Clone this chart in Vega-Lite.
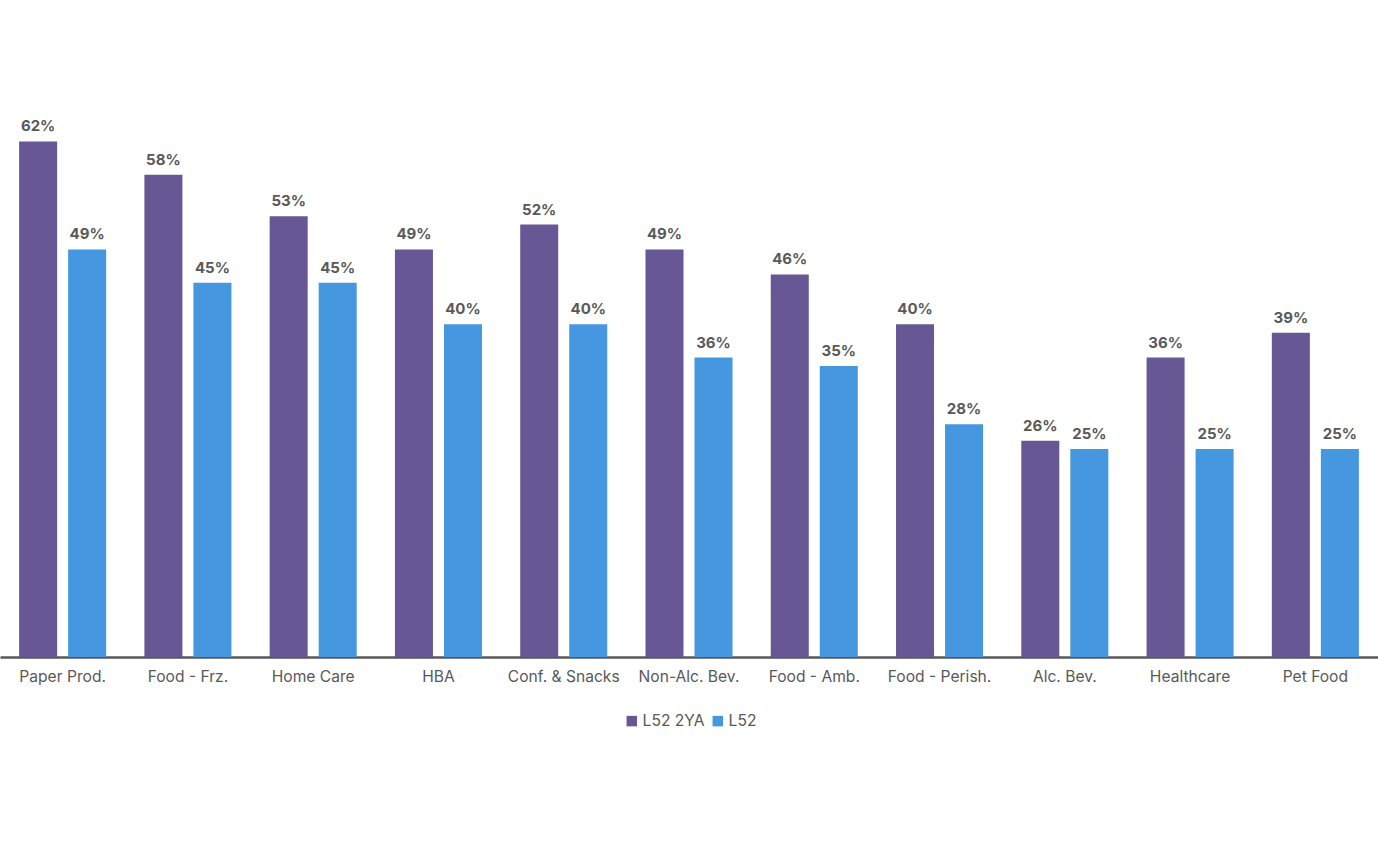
{
  "$schema": "https://vega.github.io/schema/vega-lite/v6.json",
  "width": 1378,
  "height": 657,
  "autosize": {"type": "none"},
  "padding": {"top": 0, "left": 0, "right": 0, "bottom": 201},
  "config": {
    "view": {"stroke": null},
    "font": "Inter",
    "axis": {"labelFont": "Inter", "titleFont": "Inter"},
    "legend": {"labelFont": "Inter"}
  },
  "data": {
    "values": [
      {"category": "Paper Prod.", "series": "L52 2YA", "value": 0.62},
      {"category": "Paper Prod.", "series": "L52", "value": 0.49},
      {"category": "Food - Frz.", "series": "L52 2YA", "value": 0.58},
      {"category": "Food - Frz.", "series": "L52", "value": 0.45},
      {"category": "Home Care", "series": "L52 2YA", "value": 0.53},
      {"category": "Home Care", "series": "L52", "value": 0.45},
      {"category": "HBA", "series": "L52 2YA", "value": 0.49},
      {"category": "HBA", "series": "L52", "value": 0.40},
      {"category": "Conf. & Snacks", "series": "L52 2YA", "value": 0.52},
      {"category": "Conf. & Snacks", "series": "L52", "value": 0.40},
      {"category": "Non-Alc. Bev.", "series": "L52 2YA", "value": 0.49},
      {"category": "Non-Alc. Bev.", "series": "L52", "value": 0.36},
      {"category": "Food - Amb.", "series": "L52 2YA", "value": 0.46},
      {"category": "Food - Amb.", "series": "L52", "value": 0.35},
      {"category": "Food - Perish.", "series": "L52 2YA", "value": 0.40},
      {"category": "Food - Perish.", "series": "L52", "value": 0.28},
      {"category": "Alc. Bev.", "series": "L52 2YA", "value": 0.26},
      {"category": "Alc. Bev.", "series": "L52", "value": 0.25},
      {"category": "Healthcare", "series": "L52 2YA", "value": 0.36},
      {"category": "Healthcare", "series": "L52", "value": 0.25},
      {"category": "Pet Food", "series": "L52 2YA", "value": 0.39},
      {"category": "Pet Food", "series": "L52", "value": 0.25}
    ]
  },
  "encoding": {
    "x": {
      "field": "category",
      "type": "nominal",
      "sort": null,
      "scale": {"paddingInner": 0, "paddingOuter": 0},
      "axis": {
        "title": null,
        "labelAngle": 0,
        "labelFontSize": 15.6,
        "labelColor": "#595959",
        "labelPadding": 12,
        "ticks": false,
        "domainColor": "#595959",
        "domainWidth": 2.5
      }
    },
    "xOffset": {
      "field": "series",
      "type": "nominal",
      "sort": ["L52 2YA", "L52"],
      "scale": {"paddingInner": 0.2245, "paddingOuter": 0.39}
    },
    "y": {
      "field": "value",
      "type": "quantitative",
      "scale": {"domain": [0, 0.79]},
      "axis": null
    }
  },
  "layer": [
    {
      "mark": {"type": "bar"},
      "encoding": {
        "color": {
          "field": "series",
          "type": "nominal",
          "sort": ["L52 2YA", "L52"],
          "scale": {"domain": ["L52 2YA", "L52"], "range": ["#675795", "#4597E0"]},
          "legend": {
            "title": null,
            "orient": "none",
            "legendX": 624,
            "legendY": 713,
            "direction": "horizontal",
            "symbolType": "square",
            "symbolSize": 110,
            "symbolStrokeWidth": 0,
            "labelFontSize": 15.6,
            "labelColor": "#595959",
            "columnPadding": 5,
            "labelOffset": 3
          }
        }
      }
    },
    {
      "mark": {
        "type": "text",
        "baseline": "bottom",
        "dy": -7,
        "fontSize": 15,
        "fontWeight": "bold",
        "color": "#595959"
      },
      "encoding": {
        "text": {"field": "value", "type": "quantitative", "format": ".0%"}
      }
    }
  ]
}
